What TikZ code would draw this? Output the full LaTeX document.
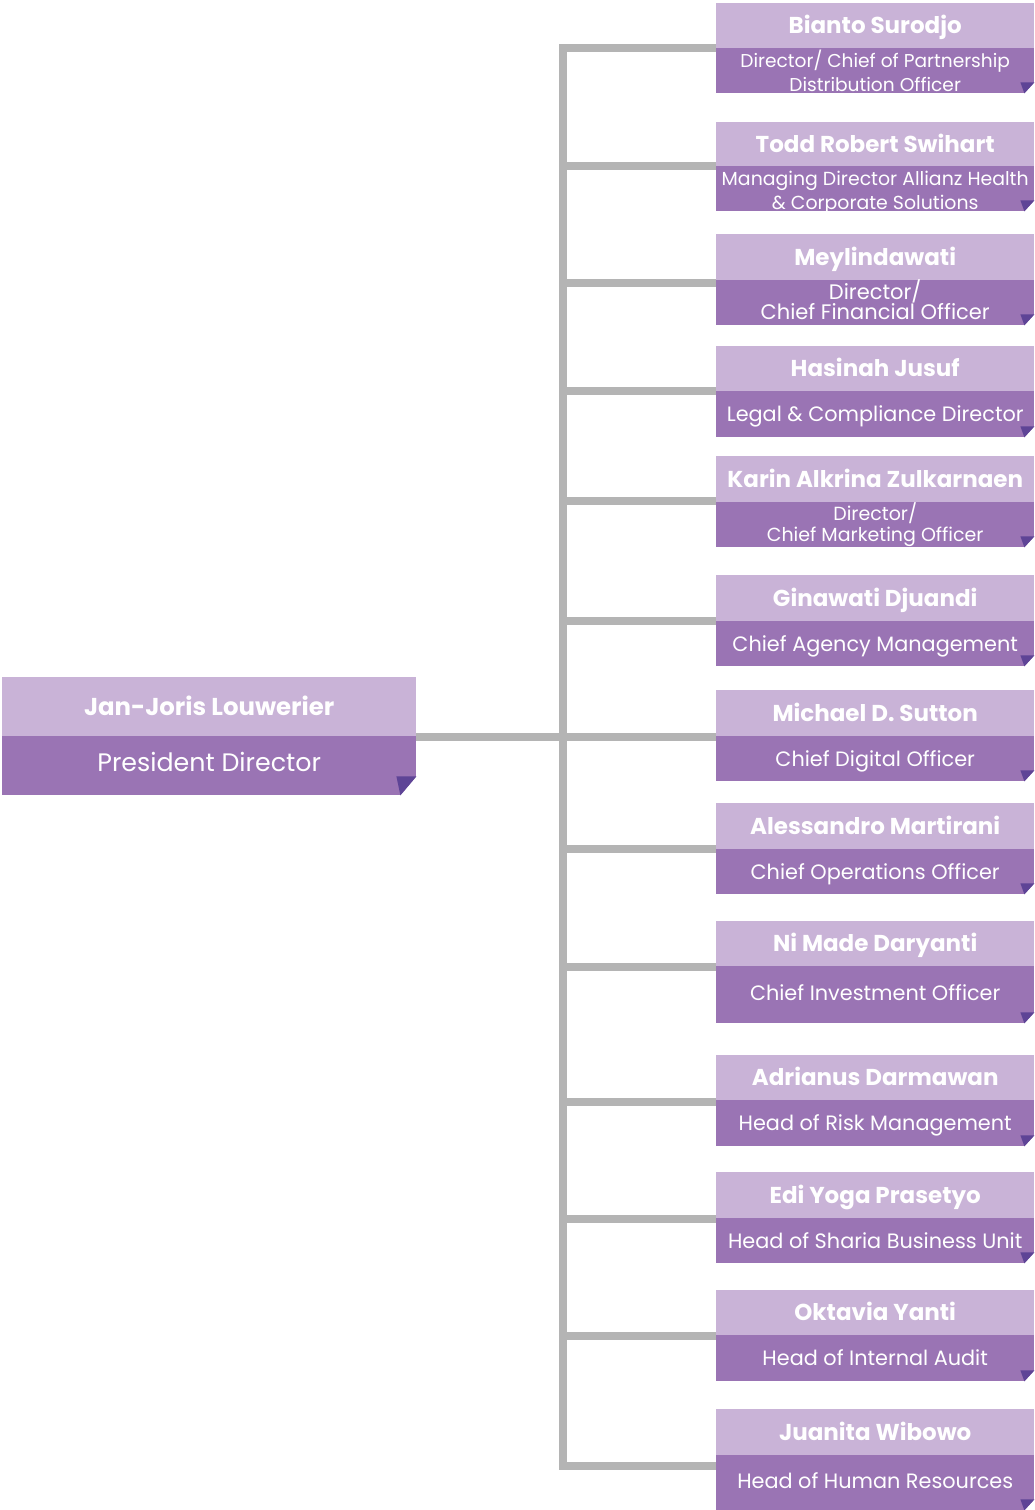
\documentclass[tikz,border=0pt]{standalone}
\usepackage{fontspec}
\setmainfont{Poppins}
\usetikzlibrary{calc}
\definecolor{lightp}{HTML}{C9B3D7}
\definecolor{darkp}{HTML}{9A74B4}
\definecolor{foldp}{HTML}{5E4496}
\definecolor{linegray}{HTML}{B4B4B4}
\tikzset{
  lightpart/.style={fill=lightp, inner sep=0pt, anchor=north west, minimum width=318pt,
    text=white, font=\bfseries\fontsize{23}{25}\selectfont, text height=16pt, text depth=0pt},
  darkpart/.style={fill=darkp, inner sep=0pt, anchor=north west, minimum width=318pt},
  subtext/.style={text=white, inner sep=0pt},
  sub1/.style={subtext, font=\fontsize{20.8}{23}\selectfont, text height=14.6pt, text depth=0pt},
  sub2/.style={subtext, align=center},
  conn/.style={draw=linegray, line width=8pt, line join=miter},
}
\newcommand\pbox[8]{%
  \node[lightpart, minimum height={(#3-#2)*1pt}] (n#1) at (716,#2) {#5};
  \node[darkpart, minimum height={(#4-#3)*1pt}] (t#1) at (716,#3) {};
  \node[#7] (s#1) at ($(t#1.center)+(0,#8)$) {#6};
  \fill[white] ($(t#1.south east)+(0,-11)$) -- ($(t#1.south east)+(0,1)$) -- ($(t#1.south east)+(-11,1)$) -- cycle;
  \fill[foldp] ($(t#1.south east)+(-14,-11)$) -- ($(t#1.south east)+(0,-11)$) -- ($(t#1.south east)+(-10,0)$) -- cycle;
}
\begin{document}
\begin{tikzpicture}[x=1pt,y=-1pt]
\useasboundingbox (0,0) rectangle (1034,1510);
% left box
\node[lightpart, minimum width=414pt, minimum height=59pt, font=\bfseries\fontsize{24.4}{26}\selectfont, text height=17pt] (p1) at (2,677) {Jan-Joris Louwerier};
\node[darkpart, minimum width=414pt, minimum height=59pt, text=white, font=\fontsize{25.3}{27}\selectfont, text height=17.7pt, text depth=6pt] (p2) at (2,736) {President Director};
\fill[white] ($(p2.south east)+(0,-19)$) -- ($(p2.south east)+(0,1)$) -- ($(p2.south east)+(-17,1)$) -- cycle;
\fill[foldp] ($(p2.south east)+(-20,-19)$) -- ($(p2.south east)+(0,-19)$) -- ($(p2.south east)+(-16,0)$) -- cycle;

\pbox{1}{3}{48}{93}{Bianto Surodjo}{Director/ Chief of Partnership\\Distribution Officer}{sub2,font=\fontsize{18.6}{24}\selectfont}{0}
\pbox{2}{122}{166}{211}{Todd Robert Swihart}{Managing Director Allianz Health\\\& Corporate Solutions}{sub2,font=\fontsize{18.9}{24}\selectfont}{4}
\pbox{3}{234}{280}{325}{Meylindawati}{Director/\\Chief Financial Officer}{sub2,font=\fontsize{21}{19}\selectfont}{-3}
\pbox{4}{346}{391}{437}{Hasinah Jusuf}{Legal \& Compliance Director}{sub1}{0}
\pbox{5}{456}{502}{547}{Karin Alkrina Zulkarnaen}{Director/\\Chief Marketing Officer}{sub2,font=\fontsize{19}{21}\selectfont}{0}
\pbox{6}{575}{621}{666}{Ginawati Djuandi}{Chief Agency Management}{sub1}{0}
\pbox{7}{690}{736}{781}{Michael D. Sutton}{Chief Digital Officer}{sub1}{0}
\pbox{8}{803}{849}{894}{Alessandro Martirani}{Chief Operations Officer}{sub1}{0}
\pbox{9}{921}{966}{1023}{Ni Made Daryanti}{Chief Investment Officer}{sub1}{-2}
\pbox{10}{1055}{1100}{1146}{Adrianus Darmawan}{Head of Risk Management}{sub1}{0}
\pbox{11}{1172}{1218}{1263}{Edi Yoga Prasetyo}{Head of Sharia Business Unit}{sub1}{0}
\pbox{12}{1290}{1335}{1381}{Oktavia Yanti}{Head of Internal Audit}{sub1}{0}
\pbox{13}{1409}{1455}{1510}{Juanita Wibowo}{Head of Human Resources}{sub1}{-2}

% spine coordinates
\coordinate (c1) at (563,48);
\coordinate (c2) at (563,166);
\coordinate (c3) at (563,283);
\coordinate (c4) at (563,391);
\coordinate (c5) at (563,501);
\coordinate (c6) at (563,621);
\coordinate (c7) at (563,737);
\coordinate (c8) at (563,849);
\coordinate (c9) at (563,967);
\coordinate (c10) at (563,1102);
\coordinate (c11) at (563,1219);
\coordinate (c12) at (563,1336);
\coordinate (c13) at (563,1466);

\draw[conn] (c1 -| t1.west) -- (c1) -- (c13) -- (c13 -| t13.west);
\foreach \i in {2,...,12} {\draw[conn] (c\i) -- (c\i -| t\i.west);}
\draw[conn] (c7 -| p2.east) -- (c7);
\end{tikzpicture}
\end{document}
